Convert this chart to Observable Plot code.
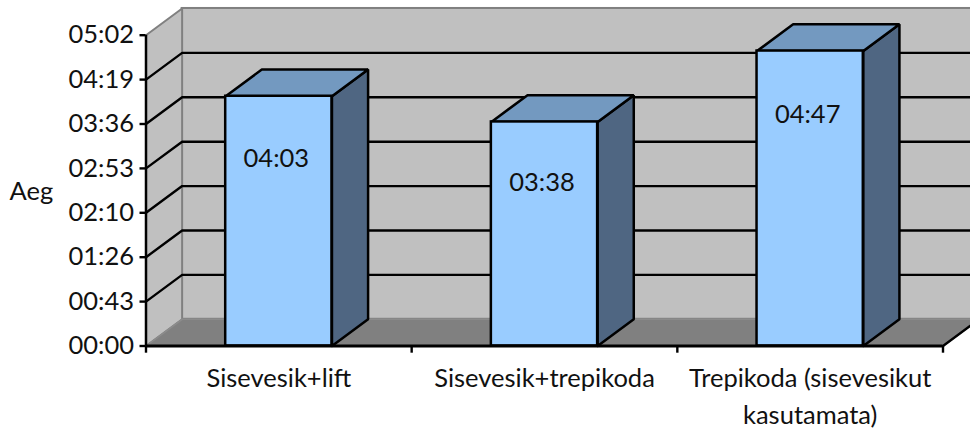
<!DOCTYPE html>
<html>
<head>
<meta charset="utf-8">
<script src="https://cdn.jsdelivr.net/npm/d3@7"></script>
<script src="https://cdn.jsdelivr.net/npm/@observablehq/plot@0.6"></script>
<style>
  html, body { margin: 0; padding: 0; background: #fff; }
  svg { display: block; }
</style>
</head>
<body>
<div id="chart"></div>
<script>
// Walking time per route, in seconds
const routes = ["Sisevesik+lift", "Sisevesik+trepikoda", "Trepikoda (sisevesikut\nkasutamata)"];
const seconds = [243, 218, 287];
const labelDrop = [61, 59, 62.5];
const yTicks = [0, 43.2, 86.4, 129.6, 172.8, 216, 259.2, 302.4];
const xTicks = [0, 1, 2, 3];

// Depth of the 3D box, expressed in scale units
const depthX = 0.136;
const depthY = 26;
const yMax = 302.4;
const barInset = 0.3;
const barWidth = 0.4;
const tickDrop = 7;

const mmss = (s) => {
  const t = Math.round(s);
  return String(Math.floor(t / 60)).padStart(2, "0") + ":" + String(t % 60).padStart(2, "0");
};

// A closed outline in data units, usable by a filled line mark
const poly = (id, pts) => [...pts, pts[0]].map(([x, y]) => ({id, x, y}));

const bars = routes.map((name, i) => ({
  name,
  value: seconds[i],
  drop: labelDrop[i],
  x1: i + barInset,
  x2: i + barInset + barWidth
}));

const topFaces = bars.flatMap((b, i) => poly("top" + i, [
  [b.x1, b.value], [b.x2, b.value], [b.x2 + depthX, b.value + depthY], [b.x1 + depthX, b.value + depthY]
]));
const sideFaces = bars.flatMap((b, i) => poly("side" + i, [
  [b.x2, 0], [b.x2 + depthX, depthY], [b.x2 + depthX, b.value + depthY], [b.x2, b.value]
]));

const sideWall = poly("wall", [[0, 0], [depthX, depthY], [depthX, yMax + depthY], [0, yMax]]);
const floor = poly("floor", [[0, 0], [3, 0], [3 + depthX, depthY], [depthX, depthY]]);
const gridLines = yTicks.slice(1, -1).map((v, i) => poly("g" + i, [[0, v], [depthX, v + depthY], [3 + depthX, v + depthY]]).slice(0, 3));

const edge = "#808080";
const ink = "#000";

const chart = Plot.plot({
  width: 970,
  height: 430,
  marginLeft: 145.5,
  marginRight: 27.5,
  marginTop: 34.7,
  marginBottom: 84.5,
  style: {fontFamily: "Lato, sans-serif", fontSize: "25.5px", color: "#111", background: "#fff"},
  x: {type: "linear", domain: [0, 3]},
  y: {type: "linear", domain: [0, yMax]},
  marks: [
    // Back wall, side wall and floor
    Plot.rect([{}], {x1: depthX, x2: 3 + depthX, y1: depthY, y2: yMax + depthY, fill: "#c0c0c0", stroke: edge, strokeWidth: 2}),
    Plot.line(sideWall, {x: "x", y: "y", z: "id", fill: "#c0c0c0", stroke: edge, strokeWidth: 2}),
    Plot.line(floor, {x: "x", y: "y", z: "id", fill: "#808080", stroke: "#8c8c8c", strokeWidth: 1.5}),
    Plot.line(gridLines.flat(), {x: "x", y: "y", z: "id", stroke: ink, strokeWidth: 2.4, strokeLinejoin: "miter"}),
    Plot.line([{x: 3, y: 0}, {x: 3 + depthX, y: depthY}], {x: "x", y: "y", stroke: ink, strokeWidth: 2.4}),

    // Bars: top and side faces, then the front
    Plot.line(sideFaces, {x: "x", y: "y", z: "id", fill: "#4f6682", stroke: ink, strokeWidth: 2.5, strokeLinejoin: "miter"}),
    Plot.line(topFaces, {x: "x", y: "y", z: "id", fill: "#7399c0", stroke: ink, strokeWidth: 2.5, strokeLinejoin: "miter"}),
    Plot.rect(bars, {x1: "x1", x2: "x2", y1: 0, y2: "value", fill: "#99ccff", stroke: ink, strokeWidth: 2.5}),

    // Value labels sit a set distance below the top of each bar
    Plot.text(bars, {
      x: (d) => (d.x1 + d.x2) / 2,
      y: (d) => d.value - d.drop,
      dx: -2.5,
      text: (d) => mmss(d.value),
      fill: "#111"
    }),

    // Axes
    Plot.ruleX([0], {y1: 0, y2: yMax, stroke: ink, strokeWidth: 2.5}),
    Plot.ruleY([0], {x1: 0, x2: 3, stroke: ink, strokeWidth: 2.8}),
    Plot.axisY({ticks: yTicks, tickFormat: mmss, tickSize: 6, tickPadding: 6, stroke: ink, strokeWidth: 2.4, label: null, fill: "#111"}),
    Plot.ruleX(xTicks, {y1: 0, y2: -tickDrop, stroke: ink, strokeWidth: 2.4}),
    Plot.axisX({
      ticks: [0.5, 1.5, 2.5],
      tickFormat: (d) => routes[Math.floor(d)],
      tickSize: 0,
      tickPadding: 14.5,
      lineHeight: 1.45,
      lineAnchor: "top",
      label: null,
      fill: "#111"
    }),
    Plot.text(["Aeg"], {frameAnchor: "left", textAnchor: "start", dx: -136.5, dy: 1, fill: "#111"})
  ]
});

document.getElementById("chart").append(chart);
</script>
</body>
</html>
